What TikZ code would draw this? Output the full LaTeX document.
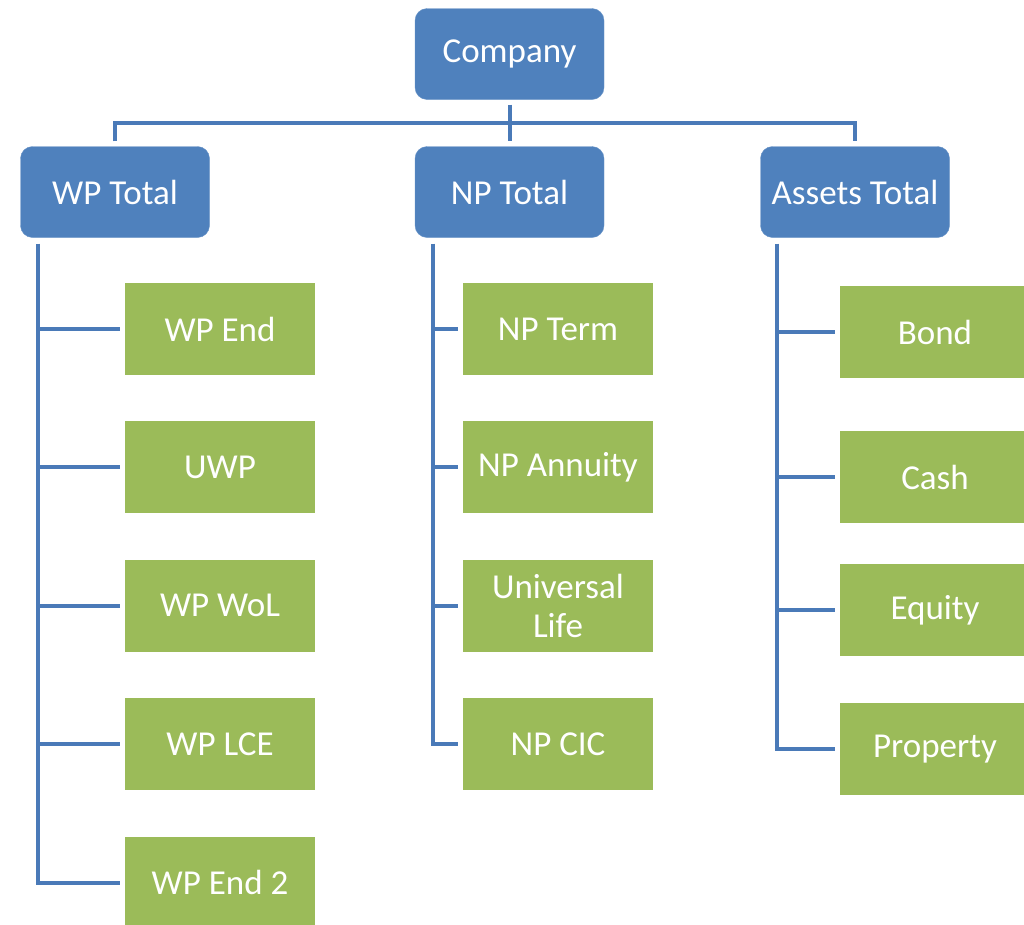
\documentclass[tikz,border=0pt]{standalone}
\usepackage{fontspec}
\setmainfont{Carlito}
\usetikzlibrary{positioning,calc}
\definecolor{headblue}{HTML}{4F81BD}
\definecolor{leafgreen}{HTML}{9BBB59}
\definecolor{linkblue}{HTML}{4A7AB8}
\tikzset
{
    headbox/.style = {rectangle, rounded corners=12pt, fill=headblue, draw=headblue!85!white, text=white, minimum width=189pt, minimum height=91pt, align=center},
    leafbox/.style = {rectangle, fill=leafgreen, text=white, minimum width=190pt, minimum height=92pt, align=center, inner sep=0pt},
    link/.style    = {draw=linkblue, line width=4pt},
}

\begin{document}
\begin{tikzpicture}[x=1pt, y=-1pt, node distance=46pt, font=\fontsize{35}{39}\selectfont]
	\useasboundingbox (0,0) rectangle (1024,924);
	\clip (0,0) rectangle (1024,924);

	\node (company) [headbox] at (509.5,54) {Company};
	\node (wptotal) [headbox] at (115,192) {WP Total};
	\node (nptotal) [headbox] at (509.5,192) {NP Total};
	\node (assets) [headbox] at (855,192) {Assets Total};

	% WP products
	\node (wp1) [leafbox] at (220,329) {WP End};
	\node (wp2) [leafbox, below=of wp1] {UWP};
	\node (wp3) [leafbox, below=of wp2] {WP WoL};
	\node (wp4) [leafbox, below=of wp3] {WP LCE};
	\node (wp5) [leafbox, below=of wp4] {WP End 2};

	% NP products
	\node (np1) [leafbox] at (558,329) {NP Term};
	\node (np2) [leafbox, below=of np1] {NP Annuity};
	\node (np3) [leafbox, below=of np2] {Universal\\Life};
	\node (np4) [leafbox, below=of np3] {NP CIC};

	% assets
	\node (as1) [leafbox] at (935,332) {Bond};
	\node (as2) [leafbox, below=53pt of as1] {Cash};
	\node (as3) [leafbox, below=40pt of as2] {Equity};
	\node (as4) [leafbox, below=47pt of as3] {Property};

	\coordinate (bus) at ($(company.south)!0.5!(nptotal.north)$);
	\draw [link, shorten <=5pt] (company.south) -- (bus);
	\draw [link, shorten >=5pt] (bus) -- (nptotal.north);
	\draw [link, shorten <=5pt, shorten >=5pt] (wptotal.north) |- (bus) -| (assets.north);

	\coordinate (wpline) at ([xshift=18pt]wptotal.south west);
	\coordinate (npline) at ([xshift=18pt]nptotal.south west);
	\coordinate (asline) at ([xshift=17pt]assets.south west);

	\draw [link, shorten <=6pt, shorten >=5pt] (wpline) |- (wp5.west);
	\draw [link, shorten <=6pt, shorten >=5pt] (npline) |- (np4.west);
	\draw [link, shorten <=6pt, shorten >=5pt] (asline) |- (as4.west);
	\foreach \i in {1,...,4}
		\draw [link, shorten >=5pt] (wpline |- wp\i.west) -- (wp\i.west);
	\foreach \i in {1,...,3}
	{
		\draw [link, shorten >=5pt] (npline |- np\i.west) -- (np\i.west);
		\draw [link, shorten >=5pt] (asline |- as\i.west) -- (as\i.west);
	}
\end{tikzpicture}
\end{document}
